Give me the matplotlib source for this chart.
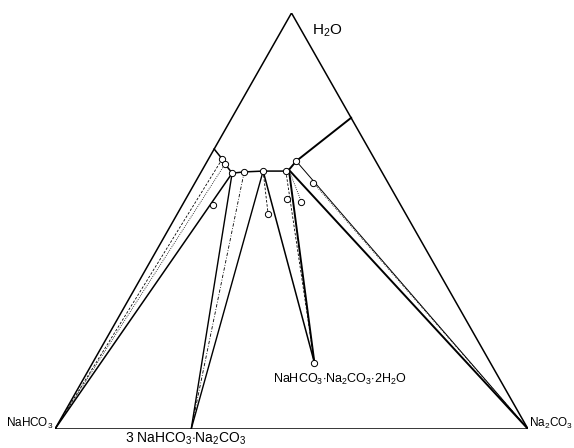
import numpy as np
import matplotlib
matplotlib.use('Agg')
import matplotlib.pyplot as plt

plt.rcParams['font.family'] = ['Liberation Sans', 'DejaVu Sans']
plt.rcParams['mathtext.fontset'] = 'custom'
plt.rcParams['mathtext.rm'] = 'Liberation Sans'

# compositions in wt %: Na2CO3 and H2O, NaHCO3 is the rest
# solubility isotherm, left edge -> right edge
curve_na2co3 = [0.0, 2.9, 4.1, 6.7, 9.1, 13.0, 17.8, 18.3, 18.8, 25.2]
curve_h2o = [67.3, 64.9, 63.7, 61.5, 61.8, 62.0, 62.0, 62.3, 64.4, 74.8]
curve_marked = [1, 2, 3, 4, 5, 6, 8]   # points drawn as open circles

# wet residues (open circles below the curve)
resid_na2co3 = [6.5, 19.2, 21.5, 24.8, 25.0]
resid_h2o = [53.8, 51.7, 55.2, 54.6, 59.2]

# solid phases
solid_labels = [r'NaHCO$_3$', r'3 NaHCO$_3$$\cdot$Na$_2$CO$_3$',
                r'NaHCO$_3$$\cdot$Na$_2$CO$_3$$\cdot$2H$_2$O', r'Na$_2$CO$_3$']
solid_na2co3 = [0.0, 28.8, 46.9, 100.0]
solid_h2o = [0.0, 0.0, 15.9, 0.0]


def tern(c, w):
    c = np.asarray(c, float) / 100
    w = np.asarray(w, float) / 100
    return c + 0.5 * w, w


fig = plt.figure(figsize=(5.74, 4.48), dpi=100)
ax = fig.add_axes([55 / 574, 19 / 448, 473 / 574, 416 / 448])
ax.set_xlim(0, 1)
ax.set_ylim(0, 1)
ax.axis('off')

# triangle
tx, ty = tern([0, 100, 0, 0], [0, 0, 100, 0])
ax.plot(tx, ty, color='k', lw=1.1, solid_joinstyle='miter')

cx, cy = tern(curve_na2co3, curve_h2o)
rx, ry = tern(resid_na2co3, resid_h2o)
sx, sy = tern(solid_na2co3, solid_h2o)

# isotherm
ax.plot(cx[:8], cy[:8], color='k', lw=1.1)
ax.plot(cx[7:], cy[7:], color='k', lw=1.4)


def seg(p, q, **kw):
    kw.setdefault('color', 'k')
    ax.plot([p[0], q[0]], [p[1], q[1]], **kw)


C = lambda i: (cx[i], cy[i])
R = lambda i: (rx[i], ry[i])
S = lambda i: (sx[i], sy[i])

# field boundaries
seg(C(3), S(0), lw=1.1)
seg(C(3), S(1), lw=1.0)
seg(C(5), S(1), lw=1.0)
seg(C(5), S(2), lw=1.1)
seg(C(7), S(2), lw=1.4)
seg(C(7), S(3), lw=1.4)
seg(C(8), S(3), lw=0.7)

# tie lines
seg(C(1), S(0), lw=0.6, ls=(0, (3, 2)))
seg(C(2), S(0), lw=0.6, ls=(0, (1, 1.5)))
seg(C(4), S(1), lw=0.6, ls=(0, (4, 2, 1, 2)))
seg(C(5), R(1), lw=0.6, ls=(0, (3, 2)))
seg(C(6), S(2), lw=0.6, ls=(0, (3, 2)))
seg(C(7), R(3), lw=0.6, ls=(0, (1, 1.5)))
seg(R(4), S(3), lw=0.6, ls=(0, (1, 1.5)))

ms = dict(marker='o', ms=4.5, mfc='white', mec='k', mew=0.7, ls='none', zorder=5)
ax.plot(cx[curve_marked], cy[curve_marked], **ms)
ax.plot(rx, ry, **ms)
ax.plot(sx[2], sy[2], **ms)

# labels
ax.annotate(solid_labels[0], S(0), xytext=(-1, 2), textcoords='offset pixels',
            ha='right', va='baseline', fontsize=8.5)
ax.annotate(solid_labels[3], S(3), xytext=(1, 2), textcoords='offset pixels',
            ha='left', va='baseline', fontsize=8.5)
ax.annotate(solid_labels[2], S(2), xytext=(-41, -20), textcoords='offset pixels',
            ha='left', va='baseline', fontsize=9)
ax.annotate(solid_labels[1], S(1), xytext=(-66, -2), textcoords='offset pixels',
            ha='left', va='top', fontsize=10)
ax.annotate(r'H$_2$O', tern(0, 100), xytext=(21, -18), textcoords='offset pixels',
            ha='left', va='center', fontsize=11)

fig.savefig('out.png', dpi=100, facecolor='white')
